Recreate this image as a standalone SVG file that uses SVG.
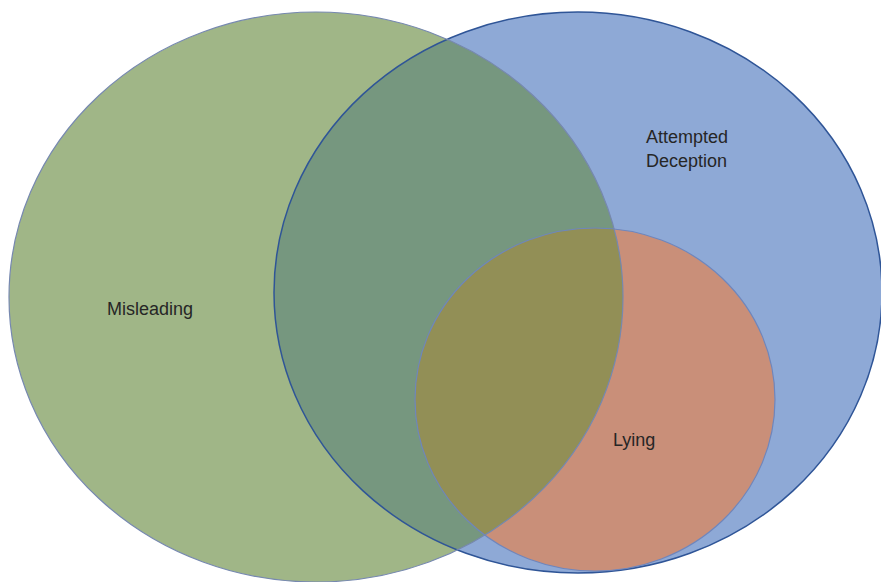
<svg xmlns="http://www.w3.org/2000/svg" width="881" height="582" viewBox="0 0 881 582">
<style>
text{font-family:"Liberation Sans",Arial,sans-serif;font-size:18px;fill:#262626}
.nofill{fill:none}
</style>
<defs>
<clipPath id="clipBlue"><ellipse cx="578" cy="292.5" rx="304" ry="280.5"/></clipPath>
<clipPath id="clipOrange"><ellipse cx="595" cy="399.5" rx="180" ry="171.5"/></clipPath>
</defs>
<rect width="881" height="582" fill="#ffffff"/>
<g id="attempted-deception">
<ellipse cx="578" cy="292.5" rx="304" ry="280.5" fill="#8EA9D6"/>
</g>
<g id="lying">
<ellipse cx="595" cy="399.5" rx="180" ry="171.5" fill="#C98F79"/>
</g>
<g id="misleading">
<ellipse cx="316" cy="297" rx="307" ry="285" fill="#A0B687"/>
</g>
<g id="overlaps">
<ellipse cx="316" cy="297" rx="307" ry="285" fill="#76977F" clip-path="url(#clipBlue)"/>
<ellipse cx="316" cy="297" rx="307" ry="285" fill="#928F56" clip-path="url(#clipOrange)"/>
</g>
<g id="outlines">
<ellipse class="nofill" cx="578" cy="292.5" rx="304" ry="280.5" stroke="#2F5597" stroke-width="1.5"/>
<ellipse class="nofill" cx="595" cy="399.5" rx="180" ry="171.5" stroke="#6F86BC" stroke-width="1.2"/>
<ellipse class="nofill" cx="316" cy="297" rx="307" ry="285" stroke="#7688B0" stroke-width="1.2"/>
</g>
<g id="labels">
<text x="107" y="315">Misleading</text>
<text x="646" y="143">Attempted</text>
<text x="646" y="167">Deception</text>
<text x="613" y="446">Lying</text>
</g>
</svg>
